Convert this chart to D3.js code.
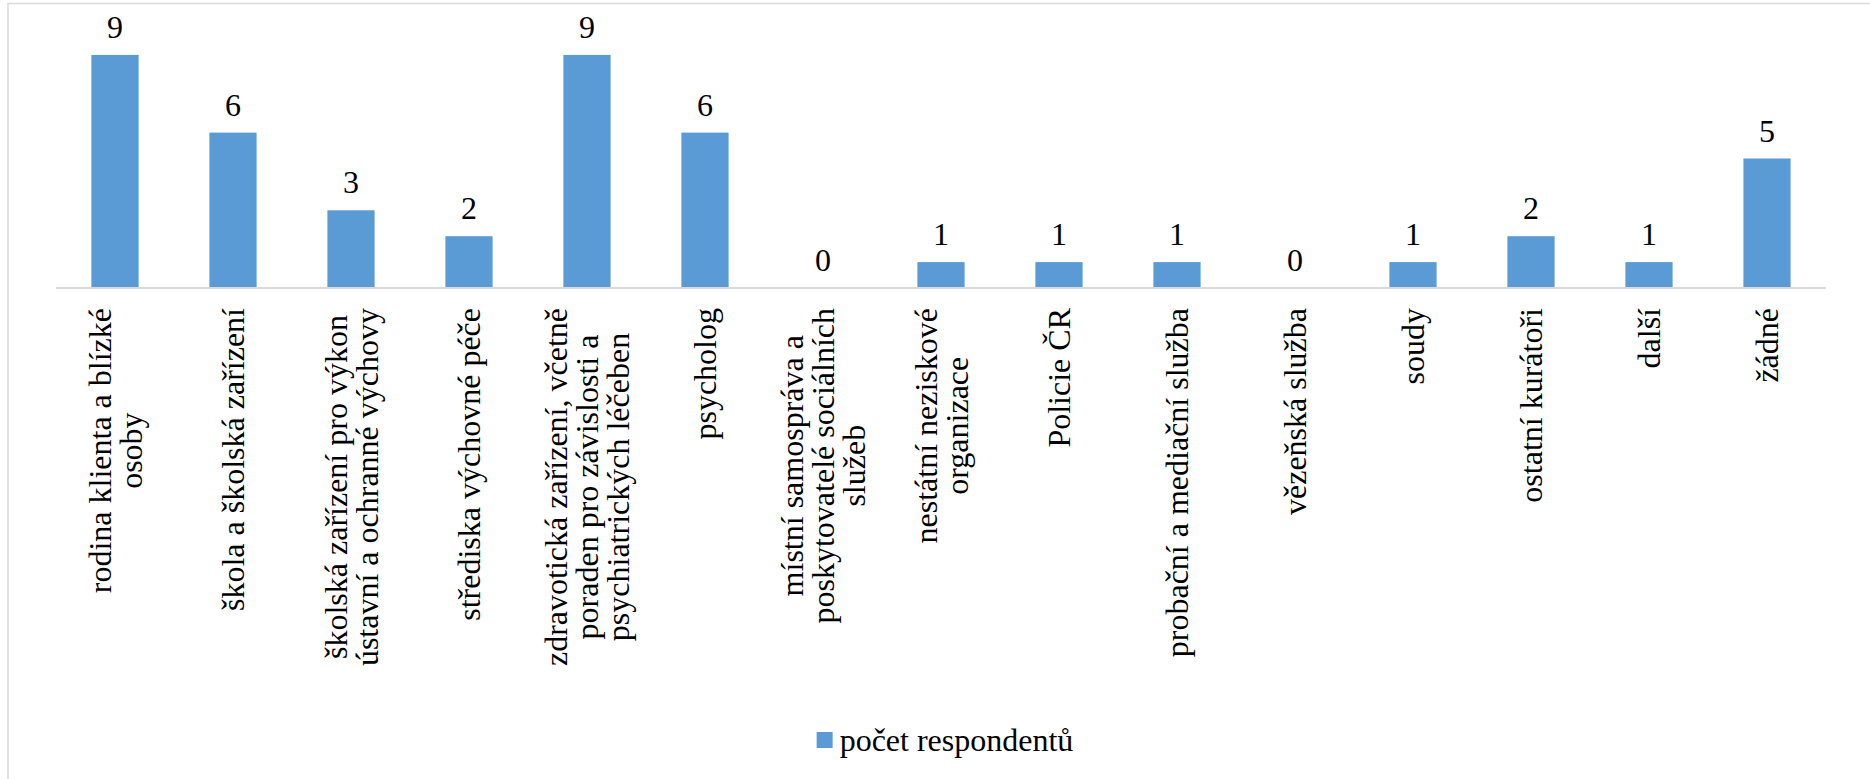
<!DOCTYPE html>
<html>
<head>
<meta charset="utf-8">
<script src="https://cdn.jsdelivr.net/npm/d3@7"></script>
<style>
  body { margin: 0; background: #fff; }
</style>
</head>
<body>
<div id="chart"></div>
<script>
var categories = [
    ["rodina klienta a blízké", "osoby"],
    ["škola a školská zařízení"],
    ["školská zařízení pro výkon", "ústavní a ochranné výchovy"],
    ["střediska výchovné péče"],
    ["zdravotická zařízení, včetně", "poraden pro závislosti a", "psychiatrických léčeben"],
    ["psycholog"],
    ["místní samospráva a", "poskytovatelé sociálních", "služeb"],
    ["nestátní neziskové", "organizace"],
    ["Policie ČR"],
    ["probační a mediační služba"],
    ["vězeňská služba"],
    ["soudy"],
    ["ostatní kurátoři"],
    ["další"],
    ["žádné"]
];
var values = [9, 6, 3, 2, 9, 6, 0, 1, 1, 1, 0, 1, 2, 1, 5];
var seriesName = "počet respondentů";

var w = 1870, h = 779;
var color = "#5b9bd5";
var font = "'Liberation Serif', 'Times New Roman', Tinos, 'DejaVu Serif', serif";

var svg = d3.select("#chart").append("svg")
    .attr("width", w)
    .attr("height", h)
    .style("font-family", font);

// chart area border
svg.append("rect")
    .attr("x", 8).attr("y", 3.5)
    .attr("width", w).attr("height", h)
    .attr("fill", "none")
    .attr("stroke", "#d9d9d9")
    .attr("stroke-width", 1.5);

var data = categories.map(function (c, i) {
    return { key: i, lines: c, value: values[i] };
});

var x = d3.scaleBand()
    .domain(data.map(function (d) { return d.key; }))
    .range([56, 1826])
    .paddingInner(0.6)
    .paddingOuter(0.3);

var y = d3.scaleLinear().domain([0, 10]).range([288, 29]);

svg.selectAll("rect.bar")
    .data(data)
    .enter().append("rect")
    .attr("class", "bar")
    .attr("x", function (d) { return x(d.key); })
    .attr("y", function (d) { return y(d.value); })
    .attr("width", x.bandwidth())
    .attr("height", function (d) { return y(0) - y(d.value); })
    .attr("fill", color);

// axis line
svg.append("line")
    .attr("x1", x.range()[0]).attr("x2", x.range()[1])
    .attr("y1", y(0)).attr("y2", y(0))
    .attr("stroke", "#d9d9d9")
    .attr("stroke-width", 2);

// value labels
svg.selectAll("text.val")
    .data(data)
    .enter().append("text")
    .attr("class", "val")
    .attr("font-family", font)
    .attr("x", function (d) { return x(d.key) + x.bandwidth() / 2; })
    .attr("y", function (d) { return y(d.value) - 17; })
    .attr("text-anchor", "middle")
    .attr("font-size", 32)
    .text(function (d) { return d.value; });

// category labels, rotated, block ends just below the axis
var lineH = 31;
var lbl = svg.selectAll("g.lbl")
    .data(data)
    .enter().append("g")
    .attr("class", "lbl")
    .attr("transform", function (d) {
        return "translate(" + (x(d.key) + x.bandwidth() / 2) + "," + (y(0) + 20) + ") rotate(-90)";
    });

lbl.each(function (d) {
    var g = d3.select(this);
    var n = d.lines.length;
    var texts = d.lines.map(function (l, i) {
        return g.append("text")
            .attr("font-family", font)
            .attr("font-size", 32)
            .attr("text-anchor", "middle")
            .attr("y", (i - (n - 1) / 2) * lineH + 11)
            .text(l);
    });
    var maxLen = d3.max(texts, function (t) { return t.node().getComputedTextLength(); });
    texts.forEach(function (t) { t.attr("x", -maxLen / 2); });
});

// legend
var legend = svg.append("g");
legend.append("rect")
    .attr("width", 16).attr("height", 16)
    .attr("fill", color);
var lt = legend.append("text")
    .attr("font-family", font)
    .attr("x", 23)
    .attr("y", 19)
    .attr("font-size", 32)
    .text(seriesName);
var legW = 23 + lt.node().getComputedTextLength();
legend.attr("transform", "translate(" + (945 - legW / 2) + ",732)");
</script>
</body>
</html>
